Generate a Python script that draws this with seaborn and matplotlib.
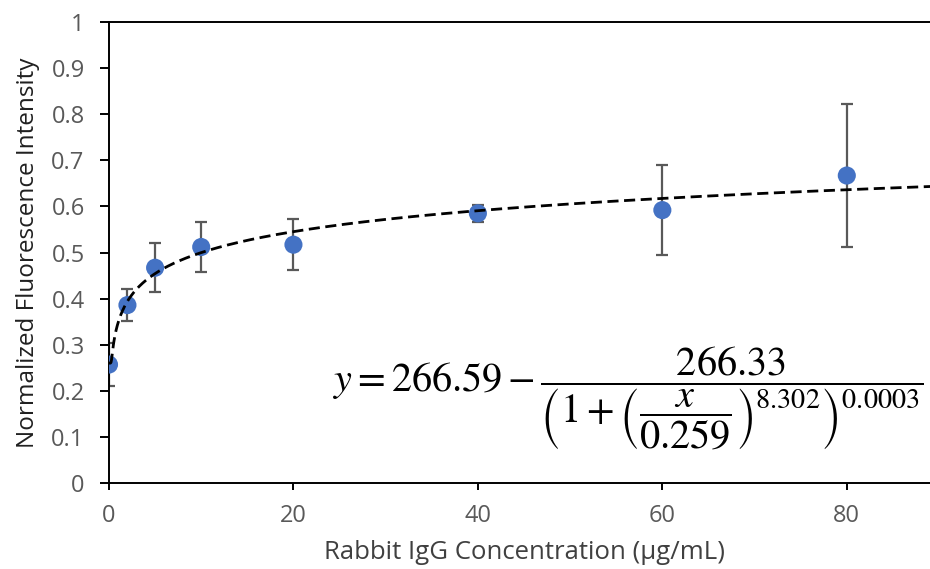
import numpy as np
import pandas as pd
import matplotlib
matplotlib.use("Agg")
import matplotlib.pyplot as plt
import seaborn as sns

# Measured response: concentration (µg/mL), mean normalized intensity, and error half-widths
concentration = [0, 2, 5, 10, 20, 40, 60, 80]
intensity = [0.257, 0.386, 0.467, 0.512, 0.517, 0.585, 0.592, 0.667]
error = [0.046, 0.034, 0.053, 0.055, 0.055, 0.019, 0.098, 0.155]

# Five-parameter logistic trendline parameters
fit_top = 266.59
fit_span = 266.33
fit_c = 0.259
fit_b = 8.302
fit_g = 2.97e-5

x_ticks = [0, 20, 40, 60, 80]
y_ticks = [0, 0.1, 0.2, 0.3, 0.4, 0.5, 0.6, 0.7, 0.8, 0.9, 1.0]
y_tick_labels = ["0", "0.1", "0.2", "0.3", "0.4", "0.5", "0.6", "0.7", "0.8", "0.9", "1"]

sns.set_theme(style="white")
plt.rcParams["font.family"] = ["Open Sans", "DejaVu Sans"]
plt.rcParams["mathtext.fontset"] = "stix"

fig = plt.figure(figsize=(9.30, 5.69), dpi=100)
ax = fig.add_axes([0.1172, 0.1511, 0.8925, 0.8102])

df = pd.DataFrame({"conc": concentration, "value": intensity, "err": error})

ax.errorbar(df["conc"], df["value"], yerr=df["err"], fmt="none",
            ecolor="#595959", elinewidth=1.6, capsize=4.5, capthick=1.6, zorder=2)
sns.scatterplot(data=df, x="conc", y="value", ax=ax, color="#4472C4",
                s=170, edgecolor="none", zorder=3, legend=False)

xs = np.linspace(0, 90, 2000)
trend = fit_top - fit_span / (1 + (xs / fit_c) ** fit_b) ** fit_g
sns.lineplot(x=xs, y=trend, ax=ax, color="black", linewidth=2.0, zorder=4)
ax.lines[-1].set_dashes((4, 2))

ax.set_xlim(0, 90)
ax.set_ylim(0, 1)
ax.set_xticks(x_ticks)
ax.set_yticks(y_ticks)
ax.set_yticklabels(y_tick_labels)

for side in ["left", "bottom", "top"]:
    ax.spines[side].set_visible(True)
    ax.spines[side].set_color("black")
    ax.spines[side].set_linewidth(1.4)
ax.spines["right"].set_visible(False)

ax.tick_params(axis="y", which="major", left=True, direction="out", length=6.5,
               width=1.4, color="black", pad=11, labelsize=17, labelcolor="#595959")
ax.tick_params(axis="x", which="major", bottom=True, direction="out", length=5,
               width=1.4, color="black", pad=10, labelsize=17, labelcolor="#595959")

ax.set_xlabel("Rabbit IgG Concentration (μg/mL)", fontsize=18.5, color="#404040", labelpad=9)
ax.set_ylabel("Normalized Fluorescence Intensity", fontsize=17.5, color="#202020", labelpad=8)

equation = (r"$y = 266.59 - \dfrac{266.33}{\left(1 + \left(\dfrac{x}{0.259}\right)^{8.302}\right)^{0.0003}}$")
fig.text(0.358, 0.30, equation, fontsize=29, color="black", va="center", ha="left")

fig.savefig("out.png", dpi=100)
